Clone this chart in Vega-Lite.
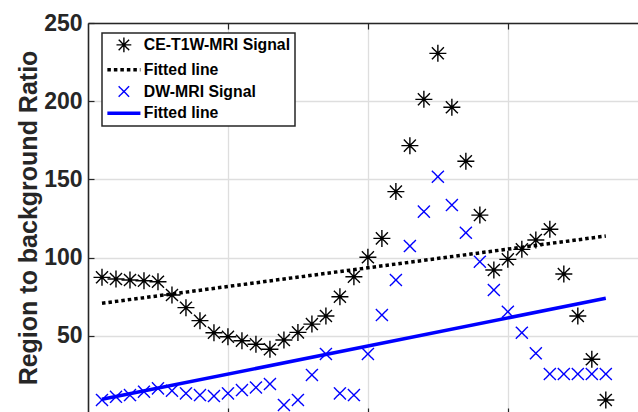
{
  "$schema": "https://vega.github.io/schema/vega-lite/v6.json",
  "width": 550,
  "height": 389,
  "autosize": {"type": "none"},
  "padding": {"left": 88, "top": 23, "right": 0, "bottom": 0},
  "background": "white",
  "config": {
    "view": {"stroke": null},
    "font": "Liberation Sans",
    "legend": {
      "labelFont": "Liberation Sans",
      "labelFontSize": 15.8,
      "labelFontWeight": "bold",
      "labelColor": "black",
      "labelLimit": 300,
      "symbolSize": 130,
      "symbolFillColor": "transparent",
      "symbolOffset": 10,
      "labelOffset": 12,
      "rowPadding": 4.8,
      "padding": 4,
      "strokeColor": "#262626",
      "strokeWidth": 1.5,
      "fillColor": "white"
    }
  },
  "data": {
    "values": [
      {"series": "CE-T1W-MRI Signal", "x": 1, "v": 87.4},
      {"series": "CE-T1W-MRI Signal", "x": 2, "v": 86.3},
      {"series": "CE-T1W-MRI Signal", "x": 3, "v": 85.7},
      {"series": "CE-T1W-MRI Signal", "x": 4, "v": 85.2},
      {"series": "CE-T1W-MRI Signal", "x": 5, "v": 84.6},
      {"series": "CE-T1W-MRI Signal", "x": 6, "v": 76.1},
      {"series": "CE-T1W-MRI Signal", "x": 7, "v": 68},
      {"series": "CE-T1W-MRI Signal", "x": 8, "v": 59.7},
      {"series": "CE-T1W-MRI Signal", "x": 9, "v": 52},
      {"series": "CE-T1W-MRI Signal", "x": 10, "v": 49.4},
      {"series": "CE-T1W-MRI Signal", "x": 11, "v": 46.9},
      {"series": "CE-T1W-MRI Signal", "x": 12, "v": 44.6},
      {"series": "CE-T1W-MRI Signal", "x": 13, "v": 41.4},
      {"series": "CE-T1W-MRI Signal", "x": 14, "v": 47.3},
      {"series": "CE-T1W-MRI Signal", "x": 15, "v": 52.2},
      {"series": "CE-T1W-MRI Signal", "x": 16, "v": 57.5},
      {"series": "CE-T1W-MRI Signal", "x": 17, "v": 62.7},
      {"series": "CE-T1W-MRI Signal", "x": 18, "v": 75},
      {"series": "CE-T1W-MRI Signal", "x": 19, "v": 87.8},
      {"series": "CE-T1W-MRI Signal", "x": 20, "v": 100.2},
      {"series": "CE-T1W-MRI Signal", "x": 21, "v": 112.3},
      {"series": "CE-T1W-MRI Signal", "x": 22, "v": 142.2},
      {"series": "CE-T1W-MRI Signal", "x": 23, "v": 171.6},
      {"series": "CE-T1W-MRI Signal", "x": 24, "v": 201.2},
      {"series": "CE-T1W-MRI Signal", "x": 25, "v": 230.6},
      {"series": "CE-T1W-MRI Signal", "x": 26, "v": 196.1},
      {"series": "CE-T1W-MRI Signal", "x": 27, "v": 161.6},
      {"series": "CE-T1W-MRI Signal", "x": 28, "v": 127.2},
      {"series": "CE-T1W-MRI Signal", "x": 29, "v": 92.1},
      {"series": "CE-T1W-MRI Signal", "x": 30, "v": 98.9},
      {"series": "CE-T1W-MRI Signal", "x": 31, "v": 105.3},
      {"series": "CE-T1W-MRI Signal", "x": 32, "v": 111.3},
      {"series": "CE-T1W-MRI Signal", "x": 33, "v": 118.1},
      {"series": "CE-T1W-MRI Signal", "x": 34, "v": 89.5},
      {"series": "CE-T1W-MRI Signal", "x": 35, "v": 62.7},
      {"series": "CE-T1W-MRI Signal", "x": 36, "v": 35},
      {"series": "CE-T1W-MRI Signal", "x": 37, "v": 9},
      {"series": "DW-MRI Signal", "x": 1, "v": 9},
      {"series": "DW-MRI Signal", "x": 2, "v": 11},
      {"series": "DW-MRI Signal", "x": 3, "v": 12.1},
      {"series": "DW-MRI Signal", "x": 4, "v": 14.3},
      {"series": "DW-MRI Signal", "x": 5, "v": 16.4},
      {"series": "DW-MRI Signal", "x": 6, "v": 14.9},
      {"series": "DW-MRI Signal", "x": 7, "v": 13.2},
      {"series": "DW-MRI Signal", "x": 8, "v": 12.1},
      {"series": "DW-MRI Signal", "x": 9, "v": 11.5},
      {"series": "DW-MRI Signal", "x": 10, "v": 13.2},
      {"series": "DW-MRI Signal", "x": 11, "v": 15.3},
      {"series": "DW-MRI Signal", "x": 12, "v": 17},
      {"series": "DW-MRI Signal", "x": 13, "v": 19.2},
      {"series": "DW-MRI Signal", "x": 14, "v": 5.8},
      {"series": "DW-MRI Signal", "x": 15, "v": 9},
      {"series": "DW-MRI Signal", "x": 16, "v": 25},
      {"series": "DW-MRI Signal", "x": 17, "v": 38.4},
      {"series": "DW-MRI Signal", "x": 18, "v": 13.2},
      {"series": "DW-MRI Signal", "x": 19, "v": 12.1},
      {"series": "DW-MRI Signal", "x": 20, "v": 38.4},
      {"series": "DW-MRI Signal", "x": 21, "v": 63.3},
      {"series": "DW-MRI Signal", "x": 22, "v": 85.7},
      {"series": "DW-MRI Signal", "x": 23, "v": 107.4},
      {"series": "DW-MRI Signal", "x": 24, "v": 129.4},
      {"series": "DW-MRI Signal", "x": 25, "v": 151.7},
      {"series": "DW-MRI Signal", "x": 26, "v": 133.6},
      {"series": "DW-MRI Signal", "x": 27, "v": 115.9},
      {"series": "DW-MRI Signal", "x": 28, "v": 97.4},
      {"series": "DW-MRI Signal", "x": 29, "v": 79.3},
      {"series": "DW-MRI Signal", "x": 30, "v": 65.4},
      {"series": "DW-MRI Signal", "x": 31, "v": 52},
      {"series": "DW-MRI Signal", "x": 32, "v": 38.8},
      {"series": "DW-MRI Signal", "x": 33, "v": 25.6},
      {"series": "DW-MRI Signal", "x": 34, "v": 25.6},
      {"series": "DW-MRI Signal", "x": 35, "v": 25.6},
      {"series": "DW-MRI Signal", "x": 36, "v": 25.6},
      {"series": "DW-MRI Signal", "x": 37, "v": 25.6},
      {"series": "Fitted line (CE)", "x": 1, "v": 70.8},
      {"series": "Fitted line (CE)", "x": 37, "v": 113.8},
      {"series": "Fitted line (DW)", "x": 1, "v": 9.4},
      {"series": "Fitted line (DW)", "x": 37, "v": 74}
    ]
  },
  "encoding": {
    "y": {
      "field": "v",
      "type": "quantitative",
      "scale": {"domain": [1.3, 250], "nice": false, "zero": false},
      "axis": {
        "values": [50, 100, 150, 200, 250],
        "title": "Region to background Ratio",
        "titleFont": "Liberation Sans",
        "titleFontSize": 25,
        "titleFontWeight": "bold",
        "titleColor": "#262626",
        "titlePadding": 2,
        "labelFont": "Liberation Sans",
        "labelFontSize": 23,
        "labelFontWeight": "bold",
        "labelColor": "#262626",
        "tickSize": -6,
        "labelPadding": 12,
        "tickColor": "#262626",
        "tickWidth": 1.2,
        "domainColor": "#262626",
        "domainWidth": 1.6,
        "grid": true,
        "gridColor": "#dedede",
        "gridWidth": 1.3
      }
    }
  },
  "layer": [
    {
      "transform": [{"filter": "indexof(datum.series, 'Fitted') !== 0"}],
      "mark": {"type": "point", "filled": false, "size": 171, "opacity": 1},
      "encoding": {
        "x": {
          "field": "x",
          "type": "quantitative",
          "scale": {"domain": [0, 39.3], "nice": false, "zero": false},
          "axis": {
            "orient": "top",
            "values": [10, 20, 30],
            "labels": false,
            "title": null,
            "tickSize": -6,
            "tickColor": "#262626",
            "tickWidth": 1.2,
            "domainColor": "#262626",
            "domainWidth": 1.6,
            "grid": true,
            "gridColor": "#dedede",
            "gridWidth": 1.3
          }
        },
        "shape": {
          "field": "series",
          "type": "nominal",
          "scale": {
            "domain": ["CE-T1W-MRI Signal", "Fitted line (CE)", "DW-MRI Signal", "Fitted line (DW)"],
            "range": [
              "M-1.3,0H1.3M0,-1.3V1.3M-0.92,-0.92L0.92,0.92M-0.92,0.92L0.92,-0.92",
              "M-2.9,0H2.9",
              "M-0.92,-0.92L0.92,0.92M-0.92,0.92L0.92,-0.92",
              "M-2.9,0H2.9"
            ]
          },
          "legend": {
            "title": null,
            "orient": "none",
            "legendX": 14,
            "legendY": 10,
            "labelExpr": "indexof(datum.label, 'Fitted') === 0 ? 'Fitted line' : datum.label"
          }
        },
        "color": {
          "field": "series",
          "type": "nominal",
          "scale": {
            "domain": ["CE-T1W-MRI Signal", "Fitted line (CE)", "DW-MRI Signal", "Fitted line (DW)"],
            "range": ["black", "black", "#0000ff", "#0000ff"]
          },
          "legend": {
            "title": null,
            "orient": "none",
            "legendX": 14,
            "legendY": 10,
            "labelExpr": "indexof(datum.label, 'Fitted') === 0 ? 'Fitted line' : datum.label"
          }
        },
        "strokeDash": {
          "field": "series",
          "type": "nominal",
          "scale": {
            "domain": ["CE-T1W-MRI Signal", "Fitted line (CE)", "DW-MRI Signal", "Fitted line (DW)"],
            "range": [[1, 0], [3.5, 3], [1, 0], [1, 0]]
          },
          "legend": {
            "title": null,
            "orient": "none",
            "legendX": 14,
            "legendY": 10,
            "labelExpr": "indexof(datum.label, 'Fitted') === 0 ? 'Fitted line' : datum.label"
          }
        },
        "strokeWidth": {
          "field": "series",
          "type": "nominal",
          "scale": {
            "type": "ordinal",
            "domain": ["CE-T1W-MRI Signal", "Fitted line (CE)", "DW-MRI Signal", "Fitted line (DW)"],
            "range": [1.4, 3.5, 1.4, 3.5]
          },
          "legend": {
            "title": null,
            "orient": "none",
            "legendX": 14,
            "legendY": 10,
            "labelExpr": "indexof(datum.label, 'Fitted') === 0 ? 'Fitted line' : datum.label"
          }
        }
      }
    },
    {
      "transform": [{"filter": "datum.series === 'Fitted line (CE)'"}],
      "mark": {"type": "line", "color": "black", "strokeWidth": 3.5, "strokeDash": [3.5, 3]},
      "encoding": {
        "x": {
          "field": "x",
          "type": "quantitative",
          "axis": {
            "orient": "bottom",
            "values": [10, 20, 30],
            "labels": false,
            "title": null,
            "domain": false,
            "grid": false,
            "tickSize": -4,
            "tickColor": "#262626",
            "tickWidth": 1.2
          }
        }
      }
    },
    {
      "transform": [{"filter": "datum.series === 'Fitted line (DW)'"}],
      "mark": {"type": "line", "color": "#0000ff", "strokeWidth": 3.5},
      "encoding": {
        "x": {"field": "x", "type": "quantitative", "axis": null}
      }
    }
  ],
  "resolve": {"axis": {"x": "independent"}}
}
